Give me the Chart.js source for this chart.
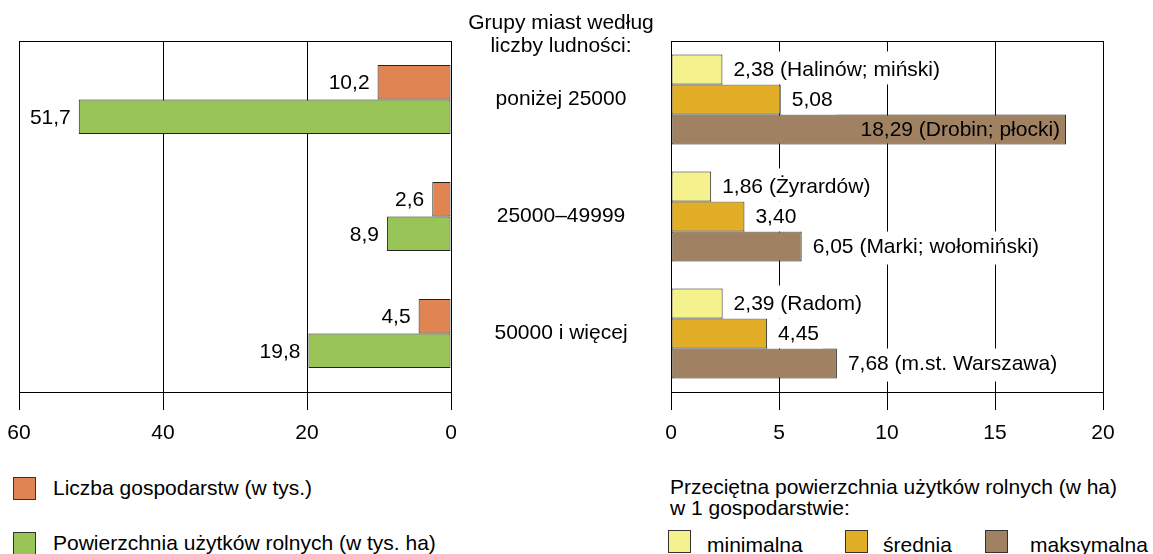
<!DOCTYPE html>
<html><head><meta charset="utf-8">
<script src="https://cdn.jsdelivr.net/npm/chart.js@4"></script>
<style>
html,body{margin:0;padding:0;background:#fff;}
body{width:1153px;height:554px;overflow:hidden;position:relative;font-family:"Liberation Sans",Arial,sans-serif;color:#000;}
.abs{position:absolute;}
.sw{position:absolute;width:21px;height:21px;border:1px solid #333;}
.lt{position:absolute;font-size:21px;line-height:24px;white-space:nowrap;}
</style></head>
<body>
<canvas id="c1" class="abs" style="left:0;top:0;" width="470" height="460"></canvas>
<canvas id="c2" class="abs" style="left:460px;top:0;" width="693" height="460"></canvas>
<div class="abs" style="left:461px;top:10px;width:200px;text-align:center;font-size:21px;line-height:23px;">Grupy miast według<br>liczby ludności:</div>

<div class="sw" style="left:13px;top:477px;background:#E08452;"></div>
<div class="lt" style="left:53px;top:476px;">Liczba gospodarstw (w tys.)</div>
<div class="sw" style="left:13px;top:532px;background:#98C458;"></div>
<div class="lt" style="left:53px;top:531px;">Powierzchnia użytków rolnych (w tys. ha)</div>

<div class="lt" style="left:670px;top:476px;line-height:21px;">Przeciętna powierzchnia użytków rolnych (w ha)<br>w 1 gospodarstwie:</div>
<div class="sw" style="left:668px;top:530px;background:#F5F28E;"></div>
<div class="lt" style="left:707px;top:533px;">minimalna</div>
<div class="sw" style="left:845px;top:530px;background:#E3AE27;"></div>
<div class="lt" style="left:883px;top:533px;">średnia</div>
<div class="sw" style="left:985px;top:530px;background:#A08262;"></div>
<div class="lt" style="left:1030px;top:533px;">maksymalna</div>

<script>
// ---- data ----
const categories = ["poniżej 25000", "25000–49999", "50000 i więcej"];
const farmCount = [10.2, 2.6, 4.5];          // Liczba gospodarstw (w tys.)
const farmArea = [51.7, 8.9, 19.8];          // Powierzchnia użytków rolnych (w tys. ha)
const avgMin = [2.38, 1.86, 2.39];
const avgMean = [5.08, 3.40, 4.45];
const avgMax = [18.29, 6.05, 7.68];
const minPlaces = ["Halinów; miński", "Żyrardów", "Radom"];
const maxPlaces = ["Drobin; płocki", "Marki; wołomiński", "m.st. Warszawa"];
const leftTicks = [0, 20, 40, 60];
const rightTicks = [0, 5, 10, 15, 20];

const FAMILY = '"Liberation Sans", Arial, sans-serif';
const FSIZE = 21;
const FONT = FSIZE + 'px ' + FAMILY;
const BORDER = '#222222';
Chart.defaults.font.family = FAMILY;
Chart.defaults.font.size = FSIZE;
Chart.defaults.color = '#000';

const fmt = (v, d) => v.toFixed(d).replace('.', ',');

const frame = {
  id: 'frame',
  beforeDatasetsDraw(chart) {
    const ca = chart.chartArea, ctx = chart.ctx;
    ctx.save();
    ctx.strokeStyle = '#000';
    ctx.lineWidth = 1;
    ctx.beginPath();
    const y = Math.round(ca.top) + 0.5;
    ctx.moveTo(Math.round(ca.left), y);
    ctx.lineTo(Math.round(ca.right) + 1, y);
    ctx.stroke();
    ctx.restore();
  }
};

const barLabels = {
  id: 'barLabels',
  afterDatasetsDraw(chart, args, opts) {
    const ctx = chart.ctx, ca = chart.chartArea;
    ctx.save();
    ctx.font = FONT;
    ctx.textBaseline = 'middle';
    const items = [];
    const nds = chart.data.datasets.length;
    chart.data.datasets.forEach((ds, di) => {
      const meta = chart.getDatasetMeta(di);
      meta.data.forEach((bar, i) => {
        const text = opts.text(di, i, ds.data[i]);
        const w = ctx.measureText(text).width;
        const top = bar.y - bar.height / 2, bot = bar.y + bar.height / 2;
        if (opts.reverse) {
          items.push({text, x: bar.x - opts.gap, y: bar.y, align: 'right'});
        } else {
          const ex = bar.x + opts.gap;
          if (ex + w > ca.right - 2) {
            items.push({text, x: bar.x - 6, y: bar.y, align: 'right'});
          } else {
            items.push({text, x: ex, y: bar.y, align: 'left',
              bg: {x: Math.round(bar.x) + 1, y: top - (di === 0 ? 3 : 0),
                   w: Math.min(ex + w + 4, ca.right - 1) - Math.round(bar.x) - 1,
                   h: (bot - top) + (di === 0 ? 3 : 0) + (di === nds - 1 ? 3 : 0)}});
          }
        }
      });
    });
    if (opts.bg) {
      ctx.fillStyle = '#fff';
      items.forEach(it => { if (it.bg) ctx.fillRect(it.bg.x, it.bg.y, it.bg.w, it.bg.h); });
    }
    ctx.fillStyle = '#000';
    items.forEach(it => { ctx.textAlign = it.align; ctx.fillText(it.text, it.x, it.y + 1); });
    ctx.restore();
  }
};

function barDs(label, data, color) {
  return {label, data, backgroundColor: color, borderColor: BORDER, borderWidth: 1,
          borderSkipped: false, barPercentage: 1};
}

const xGrid = {color: '#000', lineWidth: 1, tickLength: 18, drawTicks: true};

// ---- left chart ----
new Chart(document.getElementById('c1'), {
  type: 'bar',
  data: {
    labels: categories,
    datasets: [
      Object.assign(barDs('Liczba gospodarstw (w tys.)', farmCount, '#E08452'), {categoryPercentage: 0.59}),
      Object.assign(barDs('Powierzchnia użytków rolnych (w tys. ha)', farmArea, '#98C458'), {categoryPercentage: 0.59})
    ]
  },
  options: {
    indexAxis: 'y', responsive: false, animation: false,
    layout: {padding: {left: 19, right: 19, top: 41, bottom: 0}},
    plugins: {legend: {display: false}, tooltip: {enabled: false},
      barLabels: {reverse: true, gap: 8, bg: false, text: (di, i, v) => fmt(v, 1)}},
    scales: {
      x: {type: 'linear', min: 0, max: 60, reverse: true, position: 'bottom',
          afterBuildTicks: s => { s.ticks = leftTicks.map(v => ({value: v})); },
          afterFit: s => { s.height = 68; },
          ticks: {padding: 11, color: '#000', font: {size: FSIZE}},
          grid: xGrid, border: {display: true, color: '#000'}},
      y: {display: false, offset: true}
    }
  },
  plugins: [frame, barLabels]
});

// ---- right chart ----
const mctx = document.createElement('canvas').getContext('2d');
mctx.font = FONT;
const widest = Math.max(...categories.map(c => mctx.measureText(c).width));
const YW = 211, LABEL_CX = 101;

new Chart(document.getElementById('c2'), {
  type: 'bar',
  data: {
    labels: categories,
    datasets: [
      Object.assign(barDs('minimalna', avgMin, '#F5F28E'), {categoryPercentage: 0.77}),
      Object.assign(barDs('średnia', avgMean, '#E3AE27'), {categoryPercentage: 0.77}),
      Object.assign(barDs('maksymalna', avgMax, '#A08262'), {categoryPercentage: 0.77})
    ]
  },
  options: {
    indexAxis: 'y', responsive: false, animation: false,
    layout: {padding: {left: 0, right: 50, top: 41, bottom: 0}},
    plugins: {legend: {display: false}, tooltip: {enabled: false},
      barLabels: {reverse: false, gap: 11, bg: true, text: (di, i, v) => {
        if (di === 0) return fmt(v, 2) + ' (' + minPlaces[i] + ')';
        if (di === 2) return fmt(v, 2) + ' (' + maxPlaces[i] + ')';
        return fmt(v, 2);
      }}},
    scales: {
      x: {type: 'linear', min: 0, max: 20, position: 'bottom',
          afterBuildTicks: s => { s.ticks = rightTicks.map(v => ({value: v})); },
          afterFit: s => { s.height = 68; },
          ticks: {padding: 11, color: '#000', font: {size: FSIZE}},
          grid: xGrid, border: {display: true, color: '#000'}},
      y: {position: 'left', offset: true,
          afterFit: s => { s.width = YW; s.paddingTop = 0; s.paddingBottom = 0; },
          grid: {display: false, drawTicks: false},
          border: {display: true, color: '#000'},
          ticks: {crossAlign: 'center', padding: YW - LABEL_CX - widest / 2, color: '#000', font: {size: FSIZE}}}
    }
  },
  plugins: [frame, barLabels]
});
</script>
</body></html>
